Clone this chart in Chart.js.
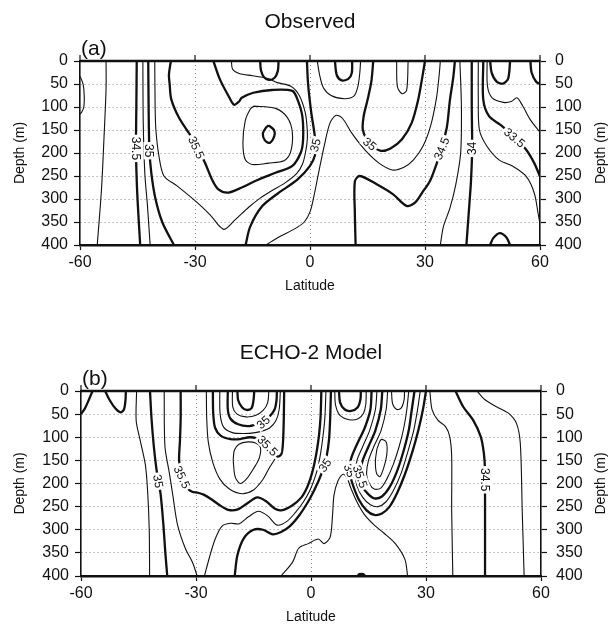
<!DOCTYPE html>
<html><head><meta charset="utf-8">
<script src="https://cdn.jsdelivr.net/npm/chart.js@4.4.1/dist/chart.umd.min.js"></script>
<style>
html,body{margin:0;padding:0;background:#fff;}
#wa{position:absolute;left:0;top:0;width:614px;height:310px;}
#wb{position:absolute;left:0;top:310px;width:614px;height:318px;}
</style></head><body>
<div id="wa"><canvas id="ca" width="614" height="310"></canvas></div>
<div id="wb"><canvas id="cb" width="614" height="318"></canvas></div>
<script>
// ---------- axes ----------
const latTicks = [-60, -30, 0, 30, 60];
const depthTicks = [0, 50, 100, 150, 200, 250, 300, 350, 400];

// ---------- (a) Observed : contour lines as [latitude, depth] ----------
const aEdge   = [[-60,33],[-59.2,50],[-58.9,75],[-59,100],[-59.6,112],[-60,115]];
const a3425w  = [[-53.2,0],[-53.2,60],[-53.7,160],[-54.4,280],[-55.5,400]];
const a345w   = [[-45.2,0],[-45.3,100],[-45.4,190],[-45.2,260],[-44.9,315],[-44.3,400]];
const a3475w  = [[-43.6,0],[-43.5,134],[-43.1,243],[-42.4,315],[-41.7,400]];
const a35w    = [[-42.2,0],[-42.1,100],[-41.9,192],[-41.4,243],[-40.3,300],[-38.5,351],[-35.5,400]];
const a3525   = [[-40.5,0],[-40.4,100],[-40.2,150],[-39.4,207],[-38.1,250],[-34.6,272],[-29.4,308],[-26,335],[-22.5,366],[-19.5,345],[-16,318],[-13,298],[-10,282],[-6.5,265],[-3.5,245],[-2,225],[-1.2,200],[-0.7,170],[-0.8,140],[-1.3,110],[-2.8,75],[-5,55],[-8.5,47],[-11,38],[-15,32],[-18.5,27],[-20.2,18],[-20.5,0]];
const a355    = [[-36.3,0],[-36.8,30],[-36.6,51],[-36.2,83],[-34.2,123],[-31.1,163],[-29.4,188],[-27.4,221],[-25.6,257],[-23.9,279],[-21.3,286],[-17.8,275],[-14.3,261],[-9,243],[-4.6,228],[-2.4,199],[-1.8,170],[-2,120],[-3.3,83],[-4.6,65],[-9.9,63],[-14.8,69],[-17.8,80],[-18.5,88],[-19.8,95],[-21,80],[-23.5,40],[-25.2,0]];
const a3575   = [[-14.7,98],[-9,103],[-5.9,123],[-4.6,156],[-5.1,199],[-6.8,217],[-10.8,222],[-15.1,225],[-16.9,214],[-17.5,178],[-16.9,130],[-15.6,105],[-14.7,98]];
const a36     = [[-10.8,140],[-9.4,150],[-9.3,163],[-10.5,178],[-11.8,172],[-12.3,158],[-11.5,145],[-10.8,140]];
const a35top  = [[-13,0],[-12.8,20],[-12,35],[-10.8,41],[-9.3,37],[-8.4,22],[-8.2,0]];
const a35c    = [[-0.8,0],[-0.5,50],[0.3,110],[1.2,160],[1.4,185],[1.3,205],[0,228],[-3.3,258],[-8.4,288],[-12.5,316],[-15.6,360],[-16.8,400]];
const a3475c  = [[-11.5,400],[-8,382],[-4,365],[-1.5,350],[0,328],[1,295],[2.2,245],[3.7,185],[5.2,135],[6.8,118],[8.5,125],[11,158],[14.5,195],[18,222],[21.5,237],[24.5,231],[27,215],[29.5,185],[31.5,140],[33,80],[33.7,30],[34,0]];
const a3475n  = [[1.9,0],[2.5,30],[3.5,58],[5.5,75],[9,82],[11.5,76],[12.5,55],[13,25],[13.2,0]];
const a345top = [[6.5,0],[7,31],[8.3,42],[10,39],[10.9,26],[11,0]];
const a35e    = [[16.5,0],[16,45],[15,85],[14,120],[13.8,150],[15.5,178],[18.3,195],[21,190],[24,170],[26.5,135],[28.2,85],[29.3,35],[30,0]];
const aFinger = [[22.6,0],[22.8,56],[24,71],[25.2,64],[25.6,0]];
const a345e   = [[11.9,400],[11.7,330],[11.7,262],[13,250],[17.4,268],[21.7,290],[25.2,315],[27.4,308],[29.6,282],[31.3,261],[33,224],[34.3,190],[35.7,144],[36.5,85],[37.4,34],[37.8,0]];
const a3425e  = [[39.1,0],[39.5,100],[39.3,200],[38,270],[36.5,320],[34.8,360],[34,400]];
const a34     = [[42.2,0],[42.2,100],[42.3,190],[42,260],[41.5,320],[40.8,400]];
const a3375   = [[43.9,0],[43.9,80],[44.2,150],[46.2,186],[49.3,215],[52.9,229],[56.4,251],[58.5,287],[59.5,331],[60,355]];
const a335    = [[45.2,0],[45.2,84],[46.7,120],[49.7,139],[53.4,166],[56.4,193],[58.5,222],[60,251]];
const a3325   = [[46.2,0],[46.3,55],[47.5,80],[50.5,90],[52.5,88],[54,80],[55.5,98],[57.5,128],[60,155]];
const a33top  = [[47,0],[47.4,26],[48.7,45],[50.4,49],[51.7,38],[52.2,0]];
const aCorner = [[57.5,0],[57.8,25],[59,45],[60,50]];
const aBump   = [[47,400],[47.8,385],[49.5,374],[51.2,383],[52.2,400]];
// labels: text, latitude, depth, angle(deg)
const aLabelText = ['34.5','35','35.5','35','35','34.5','34','33.5'];
const aLabelLat  = [-45.3,-41.9,-29.6,1.3,15.6,34.3,42.3,53.4];
const aLabelDep  = [190,195,188,183,180,190,190,166];
const aLabelRot  = [90,90,65,-75,38,-68,-90,40];

// ---------- (b) ECHO-2 Model ----------
const bEdge1  = [[-60,50],[-59,38],[-58,20],[-57,0]];
const bEdge2  = [[-53.7,0],[-52.5,20],[-51,38],[-49.7,46],[-48.8,40],[-48.4,20],[-48.3,0]];
const b3475w  = [[-45.5,0],[-45.6,65],[-44.6,105],[-43.2,160],[-42.6,220],[-42.2,300],[-42.1,400]];
const b35w    = [[-42,0],[-41.6,60],[-41,120],[-40.3,170],[-39.8,195],[-39.2,225],[-38.5,290],[-38,350],[-37.5,400]];
const b3525w  = [[-38.3,0],[-38.1,120],[-37,175],[-36,228],[-34.8,290],[-32.8,340],[-30.9,371],[-29.7,400]];
const b355w   = [[-34,0],[-34,60],[-34.2,110],[-34.4,150],[-33.6,186],[-32.5,208],[-31,218],[-29.5,220],[-28,224],[-26,234],[-24,246],[-21.6,257],[-19.1,256],[-16.5,242],[-14,230],[-11.8,238],[-9.5,254],[-7.8,258],[-5,248],[-2.5,230],[-1,208],[0,185],[0.8,160],[1.5,130],[2.1,95],[2.5,55],[2.7,0]];
const bU      = [[-19.2,0],[-19,20],[-18,35],[-16.8,41],[-15.5,37],[-15,20],[-14.8,0]];
const bS1     = [[-20.5,0],[-20.4,35],[-19.3,50],[-17,56],[-14.5,53],[-12.5,42],[-11.3,25],[-11,0]];
const bS35    = [[-21.7,0],[-21.7,40],[-21,60],[-19,72],[-16.5,76],[-14.2,72],[-12.5,66],[-10.8,55],[-9.5,40],[-9,20],[-8.9,0]];
const bS2     = [[-23.8,0],[-23.7,50],[-22.8,78],[-20.5,90],[-17.5,92],[-14.5,90],[-12.5,86],[-10.8,80],[-9.2,65],[-8.3,40],[-8,0]];
const bS355   = [[-25.6,0],[-25.5,50],[-25,80],[-23.5,97],[-21,104],[-18.5,104],[-16,100],[-14,103],[-12.5,110],[-11,122],[-9.8,134],[-8.7,142],[-7.7,136],[-7.3,110],[-7.1,60],[-7,0]];
const bS3     = [[-27.3,0],[-27.2,60],[-26.8,110],[-25.6,155],[-23.8,190],[-21.3,212],[-18,222],[-15,214],[-12.6,192],[-11,168],[-9.4,147]];
const bEll    = [[-20.3,150],[-20,128],[-18.8,115],[-16.5,110],[-14.3,113],[-13.2,122],[-13.5,145],[-15,168],[-16.8,190],[-18.5,200],[-19.8,185],[-20.3,150]];
const bWave   = [[-27.8,400],[-26.5,360],[-25,320],[-23.2,292],[-21,286],[-18.7,287],[-16.3,272],[-13.7,260],[-11.3,270],[-8.8,290],[-6.3,282],[-4,262],[-2,240],[-0.3,215],[0.9,190],[1.8,165],[2.5,135],[3.1,100],[3.6,60],[3.9,0]];
const b35c    = [[-19.9,400],[-19.2,355],[-17.5,318],[-15,300],[-12.5,300],[-10,310],[-7.8,305],[-5.5,292],[-3,268],[-0.8,240],[0.8,215],[2.1,192],[3.2,168],[4.1,140],[4.7,105],[5,60],[5.2,0]];
const bLam    = [[-7.8,400],[-4.8,370],[-3.2,340],[-0.7,330],[1.9,320],[3.4,330],[5,316],[5.6,270],[6,225],[7,195],[8.4,180],[9.5,190],[10.4,210],[12,240],[14,268],[16.5,290],[19,307],[22,330],[24.5,364],[25.2,400]];
const bNU     = [[7.3,0],[7.6,25],[8.8,40],[10.5,43],[12.2,35],[12.9,18],[13,0]];
const bNUt    = [[6.2,0],[6.4,30],[7.5,52],[10,62],[12.3,60],[13.7,48],[14.3,28],[14.4,0]];
const bN4     = [[15.8,0],[15.5,40],[14,80],[12,115],[10.5,145],[10,172],[10.8,200],[12.5,235],[14.5,258],[16.5,268],[18.5,265],[20.5,250],[22.5,220],[24.5,180],[26.5,130],[28,85],[29.2,40],[30,0]];
const bN3     = [[17.2,0],[16.8,40],[15.3,85],[13.5,120],[12,150],[11.5,178],[12,205],[13.5,230],[15.5,246],[17.5,250],[19.5,240],[21.5,215],[23.5,178],[25.3,130],[26.8,85],[27.8,40],[28.5,0]];
const bN2     = [[18.6,0],[18.2,40],[16.8,85],[15,120],[13.5,150],[12.8,180],[13.3,205],[14.8,222],[16.5,232],[18.5,228],[20.5,208],[22.5,172],[24.2,128],[25.5,85],[26.3,40],[27,0]];
const bN1     = [[20,0],[19.6,40],[18.3,85],[16.5,118],[15,150],[14.5,180],[15.2,200],[16.5,212],[18.2,210],[19.8,190],[21.5,158],[23,120],[24.2,80],[25,40],[25.5,0]];
const bNEll   = [[17.2,125],[18.3,105],[19.6,110],[19.8,135],[19,165],[18,185],[17.1,178],[16.8,152],[17.2,125]];
const bNU2    = [[21,0],[21.3,28],[22.4,40],[23.6,36],[24.3,18],[24.4,0]];
const b3475n  = [[31,0],[31.6,41],[33.1,63],[35.1,77],[36.2,99],[36.7,142],[36.7,258],[37,400]];
const b345    = [[37.7,0],[39.7,34],[42.3,63],[44.3,99],[45.1,135],[45.4,171],[45.4,215],[45.4,300],[45.4,400]];
const b3425   = [[43.3,0],[45.4,19],[48.4,34],[51.5,48],[53.6,70],[54.6,113],[55.1,258],[55.6,400]];
const bDot    = [[12.2,400],[12.6,396],[13.6,396],[14.1,400]];
const bLabelText = ['35','35.5','35','35.5','35','35','35.5','34.5'];
const bLabelLat  = [-39.8,-33.6,-12.5,-11.3,3.6,10.1,12.9,45.4];
const bLabelDep  = [195,186,67,118,160,172,185,192];
const bLabelRot  = [80,65,-42,45,-55,70,70,90];

// ---------- line groups (thick / thin) ----------
const aThick = [a345w,a35w,a355,a36,a35top,a35c,a345top,a35e,a345e,a34,a335,a33top,aCorner,aBump];
const aThin  = [aEdge,a3425w,a3475w,a3525,a3575,a3475c,a3475n,aFinger,a3425e,a3375,a3325];
const bThick = [bEdge1,bEdge2,b35w,b355w,bU,bS35,bS355,b35c,bNU,bN4,bN2,b345,bDot];
const bThin  = [b3475w,b3525w,bS1,bS2,bS3,bEll,bWave,bLam,bNUt,bN3,bN1,bNEll,bNU2,b3475n,b3425];

const FONT = 'Liberation Sans, Arial, Helvetica, sans-serif';
const INK = '#111';

function lineSets(thick, thin) {
  const mk = (pts, w) => ({
    data: pts.map(p => ({x: p[0], y: p[1]})),
    showLine: true, pointRadius: 0, borderColor: INK, borderWidth: w,
    tension: 0.3, fill: false
  });
  return thick.map(p => mk(p, 2.3)).concat(thin.map(p => mk(p, 1.1)));
}

function makePanel(id, L, title, tag, thick, thin, lbl) {
  const setTicks = vals => s => { s.ticks = vals.map(v => ({value: v})); };
  const gridCol = c => (c.tick && (c.tick.value === L.gmin || c.tick.value === L.gmax)) ? 'rgba(0,0,0,0)' : '#8a8a8a';
  const decor = {
    id: 'decor',
    afterDatasetsDraw(chart) {
      const {ctx, chartArea: a, scales: {x, y}} = chart;
      ctx.save();
      ctx.font = '12px ' + FONT;
      ctx.textAlign = 'center'; ctx.textBaseline = 'middle';
      for (let i = 0; i < lbl.t.length; i++) {
        const px = x.getPixelForValue(lbl.x[i]), py = y.getPixelForValue(lbl.y[i]);
        ctx.save(); ctx.translate(px, py); ctx.rotate(lbl.r[i] * Math.PI / 180);
        const w = ctx.measureText(lbl.t[i]).width;
        ctx.fillStyle = '#fff'; ctx.fillRect(-w / 2 - 2, -6, w + 4, 12);
        ctx.fillStyle = INK; ctx.fillText(lbl.t[i], 0, 1);
        ctx.restore();
      }
      ctx.strokeStyle = INK; ctx.lineWidth = 2.5;
      ctx.beginPath(); ctx.moveTo(a.left, a.top); ctx.lineTo(a.right, a.top); ctx.stroke();
      ctx.lineWidth = 1.2;
      latTicks.forEach(v => {
        const px = x.getPixelForValue(v);
        ctx.beginPath(); ctx.moveTo(px, a.top); ctx.lineTo(px, a.top - 6); ctx.stroke();
      });
      ctx.fillStyle = INK; ctx.textBaseline = 'alphabetic';
      ctx.font = '21px ' + FONT; ctx.textAlign = 'center';
      ctx.fillText(title, (a.left + a.right) / 2, L.titleY);
      ctx.textAlign = 'left';
      ctx.fillText(tag, a.left + 1, a.top - 6);
      ctx.font = '14px ' + FONT; ctx.textAlign = 'center'; ctx.textBaseline = 'middle';
      ctx.save(); ctx.translate(L.rTitleX, (a.top + a.bottom) / 2); ctx.rotate(-Math.PI / 2);
      ctx.fillText('Depth (m)', 0, 0); ctx.restore();
      ctx.restore();
    }
  };
  const yCommon = {
    type: 'linear', reverse: true, min: 0, max: 400,
    afterBuildTicks: setTicks(depthTicks),
    ticks: {font: {size: 16, family: FONT}, color: INK, padding: 6},
    grid: {color: c => (c.tick && (c.tick.value === 0 || c.tick.value === 400)) ? 'rgba(0,0,0,0)' : '#8a8a8a',
           lineWidth: 1, tickColor: INK, tickLength: 6, tickWidth: 1.2},
    border: {color: INK, width: 1.6, dash: [1, 3]}
  };
  return new Chart(document.getElementById(id), {
    type: 'scatter',
    data: {datasets: lineSets(thick, thin)},
    options: {
      responsive: false, animation: false, events: [],
      layout: {padding: {top: L.top, left: 0, right: 0, bottom: 0}},
      plugins: {legend: {display: false}, tooltip: {enabled: false}, title: {display: false}},
      scales: {
        x: {
          type: 'linear', min: -60, max: 60, position: 'bottom',
          afterBuildTicks: setTicks(latTicks),
          ticks: {font: {size: 16, family: FONT}, color: INK, padding: 3, maxRotation: 0, autoSkip: false},
          grid: {color: gridCol, lineWidth: 1, tickColor: INK, tickLength: 5, tickWidth: 1.2},
          border: {color: INK, width: 2.5, dash: [1, 3]},
          title: {display: true, text: 'Latitude', color: INK, font: {size: 14, family: FONT}, padding: {top: 0, bottom: L.xTitlePad}},
          afterFit: s => { s.height = L.xh; }
        },
        y: Object.assign({}, yCommon, {
          position: 'left',
          title: {display: true, text: 'Depth (m)', color: INK, font: {size: 14, family: FONT}, padding: {top: 12, bottom: 0}},
          afterFit: s => { s.width = L.left; }
        }),
        y2: Object.assign({}, yCommon, {
          position: 'right',
          grid: Object.assign({}, yCommon.grid, {drawOnChartArea: false}),
          ticks: {font: {size: 16, family: FONT}, color: INK, padding: 9},
          afterFit: s => { s.width = L.rightW; }
        })
      }
    },
    plugins: [decor]
  });
}

makePanel('ca', {top: 61, xh: 65, left: 80, rightW: 74, xTitlePad: 15, titleY: 28, rTitleX: 601, gmin: -60, gmax: 60},
  'Observed', '(a)', aThick, aThin,
  {t: aLabelText, x: aLabelLat, y: aLabelDep, r: aLabelRot});
makePanel('cb', {top: 81, xh: 52, left: 81, rightW: 73, xTitlePad: 2, titleY: 49, rTitleX: 601, gmin: -60, gmax: 60},
  'ECHO-2 Model', '(b)', bThick, bThin,
  {t: bLabelText, x: bLabelLat, y: bLabelDep, r: bLabelRot});
</script>
</body></html>
